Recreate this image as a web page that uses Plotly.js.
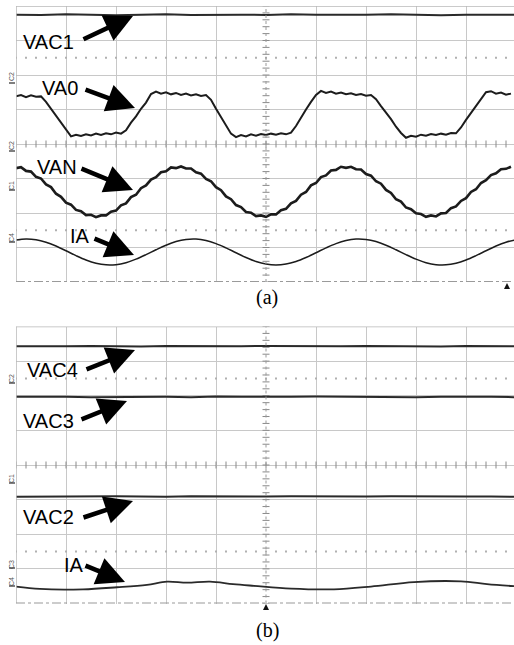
<!DOCTYPE html>
<html>
<head>
<meta charset="utf-8">
<script src="https://cdn.plot.ly/plotly-3.0.1.min.js"></script>
<style>html,body{margin:0;padding:0;background:#fff;}#chart{width:514px;height:645px;}</style>
</head>
<body>
<div id="chart"></div>
<script>
// ---------- DATA (screen divisions: x = time div, y = vertical div 0..8) ----------
// Panel (a)
const tVAC1 = [0,0.5,1,1.5,2,2.5,3,3.5,4,4.5,5,5.5,6,6.5,7,7.5,8,8.5,9,9.5,9.96];
const vVAC1 = [7.75,7.74,7.76,7.75,7.73,7.75,7.76,7.74,7.75,7.75,7.74,7.76,7.75,7.74,7.75,7.76,7.75,7.73,7.75,7.74,7.75];

const vVA0 = [5.38,5.42,5.36,5.41,5.37,5.38,5.22,5.02,4.83,4.61,
              4.40,4.22,4.27,4.23,4.28,4.25,4.30,4.26,4.31,4.28,
              4.33,4.30,4.40,4.62,4.80,5.02,5.20,5.45,5.52,5.46,
              5.50,5.44,5.48,5.42,5.46,5.41,5.44,5.39,5.42,5.28,
              5.02,4.78,4.52,4.30,4.20,4.26,4.22,4.28,4.24,4.29,
              4.26,4.30,4.27,4.31,4.28,4.33,4.52,4.78,5.00,5.22,
              5.42,5.54,5.48,5.52,5.46,5.49,5.44,5.47,5.42,5.45,
              5.40,5.42,5.30,5.10,4.92,4.72,4.50,4.32,4.18,4.24,
              4.21,4.27,4.24,4.29,4.26,4.30,4.27,4.32,4.31,4.48,
              4.70,4.90,5.10,5.30,5.50,5.53,5.46,5.49,5.43,5.46];

const vVAN = [3.30,3.33,3.22,3.20,3.05,3.00,2.83,2.75,2.56,2.47,
              2.30,2.24,2.09,2.05,1.94,1.95,1.88,1.93,1.93,2.04,
              2.07,2.22,2.28,2.46,2.53,2.72,2.80,2.97,3.04,3.18,
              3.21,3.32,3.30,3.35,3.29,3.29,3.18,3.14,2.99,2.92,
              2.75,2.66,2.48,2.40,2.23,2.17,2.03,2.01,1.91,1.93,
              1.89,1.96,1.96,2.08,2.12,2.28,2.35,2.53,2.61,2.80,
              2.87,3.04,3.09,3.23,3.25,3.34,3.31,3.34,3.27,3.26,
              3.13,3.08,2.92,2.85,2.67,2.58,2.40,2.33,2.16,2.11,
              1.99,1.97,1.89,1.93,1.90,1.99,2.00,2.14,2.19,2.35,
              2.43,2.61,2.69,2.87,2.95,3.10,3.15,3.27,3.28,3.34];

const vIAa = [1.215,1.247,1.225,1.153,1.042,0.905,0.764,0.638,0.545,0.497,
              0.503,0.560,0.662,0.792,0.934,1.066,1.172,1.234,1.245,1.202,
              1.113,0.989,0.848,0.711,0.596,0.520,0.493,0.520,0.596,0.711,
              0.848,0.989,1.113,1.202,1.245,1.234,1.172,1.066,0.934,0.792,
              0.662,0.560,0.503,0.497,0.545,0.638,0.764,0.905,1.042,1.153,1.225];

// Panel (b)
const tFlat = [0,0.5,1,1.5,2,2.5,3,3.5,4,4.5,5,5.5,6,6.5,7,7.5,8,8.5,9,9.5,9.96];
const vVAC4 = [7.43,7.42,7.43,7.44,7.43,7.42,7.44,7.43,7.42,7.43,7.44,7.43,7.42,7.43,7.44,7.43,7.43,7.42,7.44,7.43,7.43];
const vVAC3 = [5.97,5.98,5.97,5.96,5.97,5.98,5.97,5.96,5.98,5.97,5.96,5.97,5.98,5.97,5.96,5.97,5.96,5.97,5.98,5.97,5.96];
const vVAC2 = [3.08,3.09,3.08,3.09,3.10,3.09,3.08,3.10,3.09,3.08,3.09,3.10,3.09,3.08,3.09,3.10,3.09,3.08,3.09,3.09,3.08];
const tIAb = [0,0.48,1.34,2.02,2.62,3.02,3.42,3.88,4.34,4.76,5.5,6.36,7.1,7.96,8.9,9.42,9.96];
const vIAb = [0.49,0.42,0.41,0.47,0.54,0.63,0.60,0.63,0.56,0.51,0.43,0.41,0.49,0.62,0.64,0.56,0.50];

// labels
const labelsA = ['VAC1','VA0','VAN','IA'];
const labelsB = ['VAC4','VAC3','VAC2','IA'];
const panelTags = ['(a)','(b)'];

// ---------- sampling grids ----------
const t01 = Array.from({length:100},(_,i)=>+(i*0.1).toFixed(1));
const t02 = Array.from({length:51},(_,i)=>+(i*0.2).toFixed(1));

const W=514,H=645;
const PX=x=>x/W, PY=y=>1-y/H;

const traceColor='#1c1c1c';
function decor(xa,ya){
  const tx=[],ty=[],vx=[],vy=[],dx=[],dy=[];
  for(let k=0;k<=49;k++){tx.push(k*0.2);ty.push(4);}
  for(let k=0;k<=40;k++){vx.push(5);vy.push(k*0.2);}
  for(let k=0;k<=49;k++){dx.push(k*0.2,k*0.2);dy.push(1.5,6.5);}
  return [
    {x:tx,y:ty,xaxis:xa,yaxis:ya,mode:'markers',hoverinfo:'skip',
     marker:{symbol:'line-ns',size:5,line:{color:'#8a8a8a',width:1}}},
    {x:vx,y:vy,xaxis:xa,yaxis:ya,mode:'markers',hoverinfo:'skip',
     marker:{symbol:'line-ew',size:5,line:{color:'#8a8a8a',width:1}}},
    {x:dx,y:dy,xaxis:xa,yaxis:ya,mode:'markers',hoverinfo:'skip',
     marker:{symbol:'square',size:2,color:'#b0b0b0'}}
  ];
}

const data = [
  ...decor('x','y'), ...decor('x2','y2'),
  {x:tVAC1,y:vVAC1,xaxis:'x',yaxis:'y',mode:'lines',line:{color:'#2a2a2a',width:2}},
  {x:t01,y:vVA0,xaxis:'x',yaxis:'y',mode:'lines',line:{color:traceColor,width:2}},
  {x:t01,y:vVAN,xaxis:'x',yaxis:'y',mode:'lines',line:{color:traceColor,width:2.6}},
  {x:t02,y:vIAa,xaxis:'x',yaxis:'y',mode:'lines',line:{color:traceColor,width:1.5,shape:'spline'}},
  {x:tFlat,y:vVAC4,xaxis:'x2',yaxis:'y2',mode:'lines',line:{color:'#2a2a2a',width:2}},
  {x:tFlat,y:vVAC3,xaxis:'x2',yaxis:'y2',mode:'lines',line:{color:'#2a2a2a',width:2}},
  {x:tFlat,y:vVAC2,xaxis:'x2',yaxis:'y2',mode:'lines',line:{color:'#2a2a2a',width:2}},
  {x:tIAb,y:vIAb,xaxis:'x2',yaxis:'y2',mode:'lines',line:{color:'#2a2a2a',width:1.8,shape:'spline'}}
];

const xbase = {range:[0,9.96],tickvals:[1,2,3,4,6,7,8,9],showgrid:true,gridcolor:'#c8c8c8',gridwidth:1,
  zeroline:false,showticklabels:false,ticks:'',showline:false,fixedrange:true};
const ybase = {range:[0,8],tickvals:[1,2,3,4,5,6,7],showgrid:true,gridcolor:'#c8c8c8',gridwidth:1,
  zeroline:false,showticklabels:false,ticks:'',showline:false,fixedrange:true};

function frame(xr,yr){
  return [
    {type:'line',xref:xr,yref:yr,x0:0,x1:9.96,y0:8,y1:8,line:{color:'#b8b8b8',width:1.5}},
    {type:'line',xref:xr,yref:yr,x0:0,x1:0,y0:0,y1:8,line:{color:'#b8b8b8',width:1.5}},
    {type:'line',xref:xr,yref:yr,x0:5,x1:5,y0:0,y1:8,line:{color:'#9a9a9a',width:1,dash:'dot'}},
    {type:'line',xref:xr,yref:yr,x0:0,x1:9.96,y0:0,y1:0,line:{color:'#9a9a9a',width:2,dash:'dashdot'}}
  ];
}
function tri(cx,cy){
  return {type:'path',xref:'paper',yref:'paper',
    path:`M ${PX(cx-3)} ${PY(cy+3)} L ${PX(cx+3)} ${PY(cy+3)} L ${PX(cx)} ${PY(cy-3)} Z`,
    fillcolor:'#111',line:{width:0}};
}
function bar(y){
  return {type:'line',xref:'paper',yref:'paper',x0:PX(9),x1:PX(15),y0:PY(y),y1:PY(y),line:{color:'#555',width:1.5}};
}

const shapes = [...frame('x','y'),...frame('x2','y2'),tri(507,286),tri(266,607),
  bar(83),bar(151),bar(190),bar(242),bar(383),bar(483),bar(568),bar(586)];

const ann = [];
function label(text,x,y){
  ann.push({text,xref:'paper',yref:'paper',x:PX(x),y:PY(y),xanchor:'left',yanchor:'middle',
    showarrow:false,font:{family:'Liberation Sans, Arial, sans-serif',size:20,color:'#000'}});
}
function arrow(x0,y0,x1,y1){
  ann.push({text:'',xref:'paper',yref:'paper',x:PX(x1),y:PY(y1),ax:x0-x1,ay:y0-y1,
    showarrow:true,arrowhead:2,arrowwidth:4.5,arrowsize:1.25,arrowcolor:'#000'});
}
function chan(text,y){
  ann.push({text,xref:'paper',yref:'paper',x:PX(11),y:PY(y),xanchor:'center',yanchor:'middle',
    textangle:-90,showarrow:false,font:{family:'Liberation Sans, Arial, sans-serif',size:7,color:'#555'}});
}
label(labelsA[0],21,42); arrow(82,40,133,16);
label(labelsA[1],40,88); arrow(84,89,135,108);
label(labelsA[2],35,167); arrow(80,168,133,190);
label(labelsA[3],68,236); arrow(93,238,134,255);
label(labelsB[0],25,370); arrow(85,370,135,350);
label(labelsB[1],21,421); arrow(80,420,127,401);
label(labelsB[2],21,517); arrow(82,518,133,501);
label(labelsB[3],62,565); arrow(84,565,125,582);
chan('C2',77); chan('C2',146); chan('C1',186); chan('C4',238);
chan('C2',379); chan('C1',479); chan('C3',565); chan('C4',582);
ann.push({text:panelTags[0],xref:'paper',yref:'paper',x:PX(267),y:PY(297),xanchor:'center',yanchor:'middle',
  showarrow:false,font:{family:'Liberation Serif, Times New Roman, serif',size:20,color:'#000'}});
ann.push({text:panelTags[1],xref:'paper',yref:'paper',x:PX(267),y:PY(630),xanchor:'center',yanchor:'middle',
  showarrow:false,font:{family:'Liberation Serif, Times New Roman, serif',size:20,color:'#000'}});

const layout = {
  width:W,height:H,margin:{l:0,r:0,t:0,b:0},paper_bgcolor:'#fff',plot_bgcolor:'#fff',
  showlegend:false,hovermode:false,
  xaxis:Object.assign({},xbase,{domain:[16/W,1],anchor:'y'}),
  yaxis:Object.assign({},ybase,{domain:[1-282/H,1-6/H],anchor:'x'}),
  xaxis2:Object.assign({},xbase,{domain:[16/W,1],anchor:'y2'}),
  yaxis2:Object.assign({},ybase,{domain:[1-603.5/H,1-326.5/H],anchor:'x2'}),
  shapes,annotations:ann
};
Plotly.newPlot('chart',data,layout,{staticPlot:true,displayModeBar:false});
</script>
</body>
</html>
